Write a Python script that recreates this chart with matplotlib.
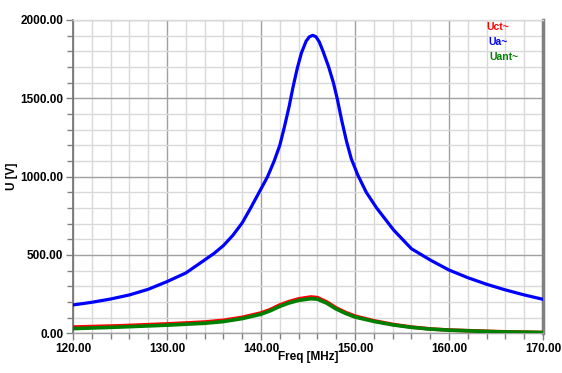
import matplotlib
matplotlib.use("Agg")
import matplotlib.pyplot as plt
from matplotlib.ticker import MultipleLocator, FormatStrFormatter

plt.rcParams['font.family'] = ['Liberation Sans', 'DejaVu Sans']

freq_ua = [120, 122, 124, 126, 128, 130, 132, 134, 135, 136, 137, 138, 138.9,
           139.8, 140.7, 141.4, 142.0, 142.5, 143.0, 143.4, 143.85, 144.3, 144.8,
           145.15, 145.5, 145.85, 146.2, 146.6, 147.2, 147.7, 148.1, 148.6, 149.1,
           149.6, 150.3, 151.2, 152.3, 154.1, 156, 158, 160, 162, 164, 166, 168, 170]
ua = [181, 198, 219, 245, 281, 330, 385, 468, 510, 560, 625, 705, 800,
      900, 1000, 1100, 1200, 1320, 1450, 1570, 1690, 1790, 1865,
      1893, 1902, 1893, 1860, 1800, 1700, 1600, 1500, 1355, 1225,
      1115, 1010, 900, 800, 660, 540, 468, 404, 355, 313, 277, 245, 217]

freq_uct = [120, 125, 130, 134, 136, 138, 140, 141, 142, 143, 144, 145.3, 146,
            147, 148, 149, 150, 152, 154, 156, 158, 160, 165, 170]
uct = [40, 48, 60, 72, 83, 102, 130, 152, 181, 203, 220, 232, 228,
       200, 162, 133, 110, 80, 57, 40, 28, 21, 11, 5]

freq_uant = [120, 125, 130, 134, 136, 138, 140, 141, 142, 143, 144, 145.3, 146,
             147, 148, 149, 150, 152, 154, 156, 158, 160, 165, 170]
uant = [30, 40, 52, 64, 75, 94, 122, 144, 172, 194, 210, 221, 218,
        192, 155, 127, 104, 76, 54, 38, 27, 20, 10, 5]

fig = plt.figure(figsize=(5.62, 3.73), dpi=100)
ax = fig.add_axes([0.1299, 0.1064, 0.9662 - 0.1299, 0.9464 - 0.1064])

ax.plot(freq_ua, ua, color='#0000ff', lw=2.3, zorder=3)
ax.plot(freq_uct, uct, color='#ff0000', lw=2.6, zorder=3)
ax.plot(freq_uant, uant, color='#008000', lw=2.6, zorder=4)

ax.set_xlim(120, 170)
ax.set_ylim(0, 2000)
ax.xaxis.set_major_locator(MultipleLocator(10))
ax.xaxis.set_minor_locator(MultipleLocator(2))
ax.yaxis.set_major_locator(MultipleLocator(500))
ax.yaxis.set_minor_locator(MultipleLocator(100))
ax.xaxis.set_major_formatter(FormatStrFormatter('%.2f'))
ax.yaxis.set_major_formatter(FormatStrFormatter('%.2f'))

ax.grid(which='minor', color='#d9d9d9', lw=1.0, zorder=0)
ax.grid(which='major', color='#a0a0a0', lw=1.0, zorder=1)
ax.set_axisbelow(True)

for lab in ax.get_xticklabels() + ax.get_yticklabels():
    lab.set_fontweight('bold')
    lab.set_fontsize(8.5)

ax.tick_params(which='both', direction='out', color='#808080', width=1)
ax.tick_params(which='major', length=5, pad=2)
ax.tick_params(which='minor', length=4)

ax.spines['left'].set_color('#707070')
ax.spines['left'].set_linewidth(1.2)
ax.spines['bottom'].set_color('#a0a0a0')
ax.spines['bottom'].set_linewidth(1.0)
ax.spines['top'].set_color('#d9d9d9')
ax.spines['top'].set_linewidth(1.0)
ax.spines['right'].set_color('#808080')
ax.spines['right'].set_linewidth(2.5)

ax.set_xlabel('Freq [MHz]', fontweight='bold', fontsize=8.5)
ax.xaxis.set_label_coords(0.5, -0.058)
ax.set_ylabel('U [V]', fontweight='bold', fontsize=8.5)
ax.yaxis.set_label_coords(-0.118, 0.5)

ax.text(0.879, 0.977, 'Uct~', color='#ff0000', fontweight='bold', fontsize=7.5,
        transform=ax.transAxes, va='center')
ax.text(0.883, 0.930, 'Ua~', color='#0000ff', fontweight='bold', fontsize=7.5,
        transform=ax.transAxes, va='center')
ax.text(0.885, 0.882, 'Uant~', color='#008000', fontweight='bold', fontsize=7.5,
        transform=ax.transAxes, va='center')

fig.savefig('out.png', dpi=100)
